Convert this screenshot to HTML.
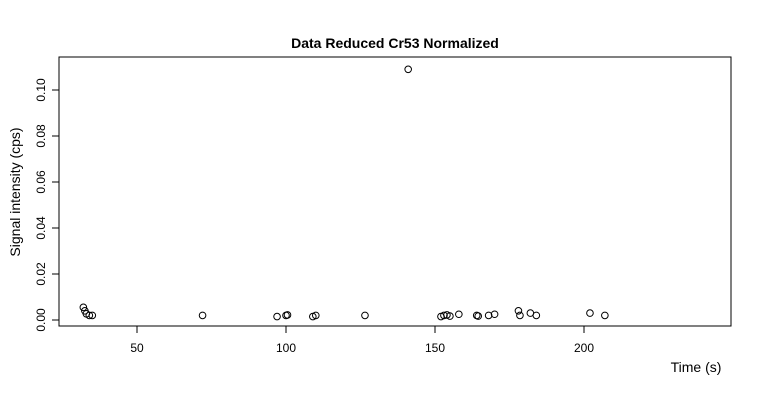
<!DOCTYPE html>
<html><head><meta charset="utf-8"><style>
body{margin:0;background:#fff;font-family:"Liberation Sans",Arial,sans-serif}
svg text{font-family:"Liberation Sans",Arial,sans-serif;fill:#000}
</style></head><body>
<svg id="chart" width="760" height="400">
<rect x="0" y="0" width="760" height="400" fill="#fff"/>
<text x="395" y="48" text-anchor="middle" font-size="14" font-weight="bold">Data Reduced Cr53 Normalized</text>
<rect x="59" y="57" width="672" height="269" fill="none" stroke="#000" stroke-width="1"/>
<g id="xaxis"></g>
<g id="yaxis"></g>
<g id="points"></g>
<text x="696" y="372" text-anchor="middle" font-size="14">Time (s)</text>
<text transform="translate(20,192) rotate(-90)" text-anchor="middle" font-size="14">Signal intensity (cps)</text>
</svg>
<script>
const timeValues = [32,32.5,33,34,35,72,97,100,100.5,109,110,126.5,141,152,153,154,155,158,164,164.5,168,170,178,178.5,182,184,202,207];
const signalValues = [0.0055,0.004,0.0027,0.002,0.002,0.002,0.0015,0.002,0.0022,0.0015,0.002,0.002,0.109,0.0015,0.002,0.0022,0.0017,0.0025,0.002,0.0017,0.002,0.0025,0.004,0.002,0.003,0.002,0.003,0.002];
const xTicks = [50,100,150,200];
const yTicks = [0,0.02,0.04,0.06,0.08,0.10];
const yTickLabels = ["0.00","0.02","0.04","0.06","0.08","0.10"];
const NS="http://www.w3.org/2000/svg";
function xs(v){return 137+(v-50)*2.98;}
function ys(v){return 320-v*2300;}
function mk(t,a){const e=document.createElementNS(NS,t);for(const k in a)e.setAttribute(k,a[k]);return e;}
const xa=document.getElementById('xaxis'),ya=document.getElementById('yaxis'),pts=document.getElementById('points');
xTicks.forEach(v=>{
 const l=mk('line',{x1:xs(v),x2:xs(v),y1:326,y2:333,stroke:'#000'});
 
 
 xa.appendChild(l);
 const t=mk('text',{x:xs(v),y:352,'text-anchor':'middle','font-size':'12'});t.textContent=v;
 
 
 xa.appendChild(t);
});
yTicks.forEach((v,i)=>{
 const l=mk('line',{x1:52,x2:59,y1:ys(v),y2:ys(v),stroke:'#000'});
 
 
 ya.appendChild(l);
 const t=mk('text',{x:0,y:0,'text-anchor':'middle','font-size':'12',transform:`translate(45,${ys(v)}) rotate(-90)`});t.textContent=yTickLabels[i];
 
 
 ya.appendChild(t);
});
timeValues.forEach((v,i)=>{
 const c=mk('circle',{cx:xs(v),cy:ys(signalValues[i]),r:3.3,fill:'none',stroke:'#000','stroke-width':'1'});
 
 
 pts.appendChild(c);
});
</script>
</body></html>
